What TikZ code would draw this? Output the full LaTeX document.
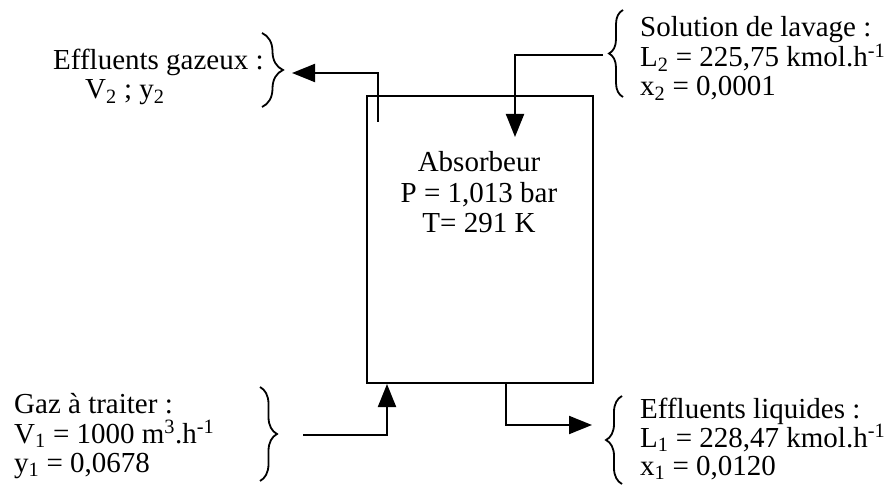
\documentclass[tikz,border=0pt]{standalone}
\usepackage{fontspec}
\setmainfont{Liberation Serif}
\usetikzlibrary{arrows.meta,decorations.pathreplacing}
\begin{document}
\begin{tikzpicture}[x=1pt,y=-1pt,
  txt/.style={anchor=base west,inner sep=0pt,font=\fontsize{29}{30}\selectfont},
  ctxt/.style={anchor=base,inner sep=0pt,font=\fontsize{29}{30}\selectfont},
  flow/.style={line width=2pt,-{Triangle[length=23pt,width=18pt]}},
  brc/.style={line width=1.8pt,decorate,decoration={brace,amplitude=#1}}]
\useasboundingbox (0,0) rectangle (886,486);
% absorber
\node[draw,line width=2pt,minimum width=226pt,minimum height=287pt,inner sep=0pt] (box) at (480,239.5) {};
\node[ctxt] (t1) at (479,172) {Absorbeur};
\node[ctxt] (t2) at (479,203) {P = 1,013 bar};
\node[ctxt] (t3) at (479,233) {T= 291 K};
% gas outlet
\node[txt] (go1) at (53,70) {Effluents gazeux :};
\node[txt] (go2) at (85,99) {V\textsubscript{2} ; y\textsubscript{2}};
\draw[brc=21pt] (262,33) -- (262,107);
\coordinate (exS) at (378,122);
\coordinate (exT) at (292,73);
\draw[flow] (exS) |- (exT);
% washing solution
\node[txt] (s1) at (640,37) {Solution de lavage :};
\node[txt] (s2) at (640,67) {L\textsubscript{2} = 225,75 kmol.h\textsuperscript{-1}};
\node[txt] (s3) at (640,96) {x\textsubscript{2} = 0,0001};
\draw[brc=14pt] (623,97) -- (623,10);
\coordinate (solS) at (603,55);
\coordinate (solT) at (515,137);
\draw[flow] (solS) -| (solT);
% gas inlet
\node[txt] (g1) at (14,413) {Gaz à traiter :};
\node[txt] (g2) at (14,443) {V\textsubscript{1} = 1000 m\textsuperscript{3}.h\textsuperscript{-1}};
\node[txt] (g3) at (14,472) {y\textsubscript{1} = 0,0678};
\draw[brc=17pt] (260,387) -- (260,481);
\coordinate (ginS) at (303,435);
\coordinate (ginT) at (387,384);
\draw[flow] (ginS) -| (ginT);
% liquid outlet
\node[txt] (l1) at (640,418) {Effluents liquides :};
\node[txt] (l2) at (640,447) {L\textsubscript{1} = 228,47 kmol.h\textsuperscript{-1}};
\node[txt] (l3) at (640,475) {x\textsubscript{1} = 0,0120};
\draw[brc=16pt] (622,484) -- (622,396);
\coordinate (liqS) at (506,383);
\coordinate (liqT) at (592,425);
\draw[flow] (liqS) |- (liqT);
\end{tikzpicture}
\end{document}
